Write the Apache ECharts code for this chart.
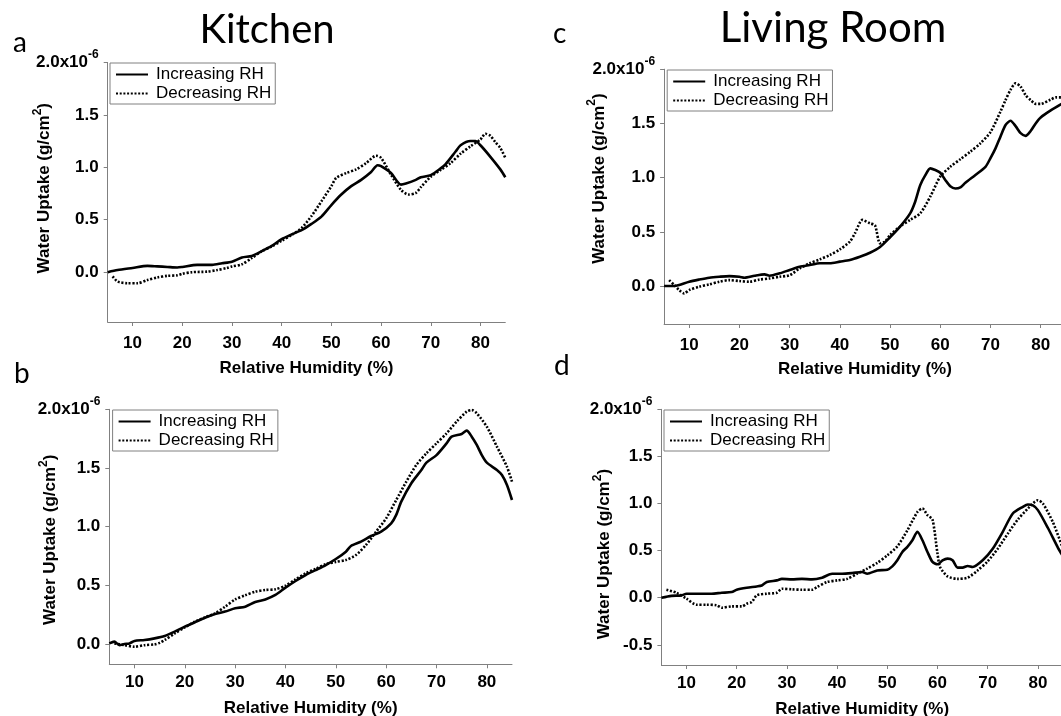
<!DOCTYPE html>
<html><head><meta charset="utf-8">
<script src="https://cdn.jsdelivr.net/npm/echarts@6/dist/echarts.min.js"></script>
<style>html,body{margin:0;padding:0;background:#fff}#c{width:1061px;height:716px}</style>
</head><body><div id="c"></div>
<script>
// Values in units of 1e-6 g/cm^2, RH in %
const aIncRH  = [5,7,10,13,15,17,19,20,23,26,28,30,32,34,36,38,40,42,44,46,48,50,52,54,56,58,59.3,60,62,64,65,67,68,70,72,73,75,76,78,79,80,82,84,85];
const aIncVal = [0.00,0.02,0.04,0.06,0.055,0.05,0.045,0.05,0.07,0.07,0.085,0.10,0.14,0.155,0.20,0.25,0.315,0.36,0.40,0.46,0.53,0.64,0.74,0.82,0.88,0.955,1.02,1.01,0.945,0.835,0.845,0.88,0.905,0.925,0.99,1.03,1.15,1.21,1.25,1.25,1.21,1.10,0.98,0.905];
const aDecRH  = [6,7,9,11,13,15,17,19,20,22,25,27,29,30,32,34,36,38,40,42,44,46,48,50,51,53,55,57,59,60,62,64,65.5,67,68,70,72,74,76,78,80,81,82,83,84,85];
const aDecVal = [-0.04,-0.09,-0.105,-0.105,-0.075,-0.05,-0.035,-0.03,-0.015,0.0,0.005,0.02,0.04,0.055,0.075,0.135,0.20,0.245,0.30,0.355,0.42,0.535,0.675,0.82,0.90,0.945,0.98,1.04,1.11,1.09,0.93,0.785,0.74,0.755,0.81,0.91,0.975,1.04,1.13,1.2,1.265,1.32,1.3,1.24,1.185,1.09];

const bIncRH  = [5,6,7,8,9,10,12,14,16,18,20,22,24,26,28,30,32,34,36,38,40,42,44,46,48,50,52,53,55,57,59,61,62,63,65,67,68,70,72,73,75,76,77,78,79,80,82,83,84,85];
const bIncVal = [0.005,0.02,-0.01,0.0,0.005,0.026,0.034,0.048,0.068,0.105,0.148,0.185,0.224,0.256,0.276,0.304,0.318,0.358,0.38,0.418,0.48,0.537,0.588,0.63,0.673,0.724,0.787,0.835,0.872,0.92,0.957,1.028,1.1,1.213,1.37,1.483,1.545,1.61,1.71,1.767,1.79,1.818,1.767,1.696,1.61,1.545,1.483,1.44,1.355,1.227];
const bDecRH  = [6,8,10,12,14,15,16,18,20,22,24,26,28,30,32,34,36,38,40,42,44,46,48,50,52,54,56,58,60,62,64,66,68,70,72,74,76,77,78,80,82,84,85];
const bDecVal = [0.005,-0.01,-0.023,-0.01,-0.003,0.01,0.034,0.09,0.142,0.19,0.227,0.26,0.318,0.38,0.415,0.446,0.46,0.466,0.497,0.55,0.602,0.64,0.68,0.70,0.716,0.758,0.844,0.957,1.071,1.227,1.383,1.526,1.625,1.71,1.795,1.895,1.98,1.994,1.966,1.852,1.682,1.51,1.383];

const cIncRH  = [5,7,8,10,12,14,16,18,20,21,23,25,26,28,30,32,34,36,38,40,42,44,46,48,50,52,54,55,56,57,58,59,60,61,62,63,64,65,67,69,70,71,72,73,74,75,76,77,78,79,80,82,84,85];
const cIncVal = [0,0,0.01,0.04,0.06,0.077,0.086,0.092,0.086,0.077,0.095,0.108,0.095,0.117,0.148,0.178,0.194,0.21,0.21,0.225,0.24,0.27,0.307,0.36,0.45,0.548,0.67,0.778,0.93,1.02,1.085,1.07,1.045,0.978,0.92,0.9,0.91,0.953,1.025,1.1,1.18,1.27,1.38,1.485,1.525,1.475,1.41,1.385,1.43,1.5,1.555,1.62,1.675,1.70];
const cDecRH  = [6,7,8,9,10,12,14,16,18,20,22,24,26,28,30,32,34,36,38,40,42,43,44.5,46,47,48,49,50,52,54,56,58,60,62,64,66,68,70,72,73,74,75,76,77,78,79,80,82,83,85];
const cDecVal = [0.055,0.01,-0.037,-0.068,-0.037,-0.006,0.015,0.04,0.055,0.046,0.04,0.06,0.07,0.086,0.10,0.163,0.21,0.246,0.286,0.338,0.41,0.486,0.61,0.578,0.56,0.394,0.41,0.47,0.55,0.61,0.67,0.824,1.01,1.1,1.17,1.24,1.317,1.42,1.61,1.715,1.81,1.87,1.84,1.76,1.715,1.68,1.68,1.72,1.74,1.74];

const dIncRH  = [5,7,9,10,12,15,17,19,20,22,24,25,26,28,29,31,33,35,37,39,41,43,45,46,48,50,51,52,53,54,55,56,57,58,59,60,61,62,63,64,65,66,67,69,71,73,75,77,78,79,80,82,84,85];
const dIncVal = [0,0.02,0.025,0.043,0.043,0.043,0.053,0.06,0.085,0.106,0.12,0.13,0.167,0.184,0.2,0.195,0.2,0.195,0.213,0.255,0.255,0.262,0.273,0.255,0.29,0.298,0.333,0.397,0.486,0.54,0.61,0.70,0.61,0.486,0.38,0.355,0.397,0.415,0.397,0.32,0.32,0.337,0.326,0.397,0.52,0.70,0.894,0.965,0.99,0.98,0.93,0.74,0.53,0.44];
const dDecRH  = [6,8,10,12,14,16,17,19,21,22,23,24,26,28,29,31,33,35,36,38,40,42,44,46,48,50,52,54,56,57,58,59,60,60.5,62,64,66,68,70,72,74,76,78,80,81,83,85];
const dDecVal = [0.085,0.053,-0.01,-0.074,-0.074,-0.08,-0.106,-0.092,-0.092,-0.064,-0.046,0.025,0.043,0.053,0.096,0.089,0.085,0.085,0.113,0.167,0.184,0.2,0.255,0.31,0.37,0.45,0.546,0.716,0.91,0.947,0.876,0.83,0.468,0.326,0.227,0.2,0.213,0.29,0.387,0.52,0.68,0.83,0.947,1.035,1.0,0.8,0.52];

const xTicks = [10,20,30,40,50,60,70,80];
const yTicksMain = [0,0.5,1,1.5,2];
const yTicksD = [-0.5,0,0.5,1,1.5,2];
const roomTitles = ['Kitchen','Living Room'];
const panelLetters = ['a','b','c','d'];
const xName = 'Relative Humidity (%)';
const yName = ['Water Uptake (g/cm', '2', ')'];
const seriesNames = ['Increasing RH','Decreasing RH'];

const F = '"Liberation Sans", Arial, sans-serif';
const TF = 'Lato, "Open Sans", sans-serif';
const AX = '#808080';
function zip(xs, ys){ return xs.map((x,i)=>[x, ys[i]]); }

const panels = [
  {grid:{left:107.7, top:62.4, width:397.6, height:259.6}, ymin:-0.475, yt:yTicksMain,
   inc:zip(aIncRH,aIncVal), dec:zip(aDecRH,aDecVal), lg:{left:110, top:63}, ngap:50, npad:[0,0,0,8], xgap:38, lm:13},
  {grid:{left:109.3, top:409.3, width:402.7, height:255}, ymin:-0.173, yt:yTicksMain,
   inc:zip(bIncRH,bIncVal), dec:zip(bDecRH,bDecVal), lg:{left:112.6, top:410}, ngap:46, npad:[0,6,0,0], xgap:36, lm:10},
  {grid:{left:664.1, top:69.2, width:401.7, height:254.8}, ymin:-0.35, yt:yTicksMain,
   inc:zip(cIncRH,cIncVal), dec:zip(cDecRH,cDecVal), lg:{left:667.2, top:70}, ngap:52, npad:[0,0,0,36], xgap:37, lm:13},
  {grid:{left:661.4, top:409.3, width:401.6, height:255.7}, ymin:-0.714, yt:yTicksD,
   inc:zip(dIncRH,dIncVal), dec:zip(dDecRH,dDecVal), lg:{left:664, top:410}, ngap:44, npad:[0,34,0,0], xgap:36, lm:10}
];

const titleStyle = (size) => ({fontFamily:TF, fontSize:size, fontWeight:'normal', color:'#000'});

const option = {
  backgroundColor:'#fff',
  animation:false,
  title: [
    {text:roomTitles[0], left:267, top:10, textAlign:'center', padding:0, textStyle:titleStyle(40)},
    {text:roomTitles[1], left:833, top:7, textAlign:'center', padding:0, textStyle:titleStyle(42)},
    {text:panelLetters[0], left:13, top:29, padding:0, textStyle:titleStyle(28)},
    {text:panelLetters[1], left:14, top:360, padding:0, textStyle:titleStyle(28)},
    {text:panelLetters[2], left:553, top:20, padding:0, textStyle:titleStyle(28)},
    {text:panelLetters[3], left:554, top:352, padding:0, textStyle:titleStyle(28)}
  ],
  grid: panels.map(p => Object.assign({outerBoundsMode:'none', containLabel:false}, p.grid)),
  legend: panels.map(p => ({
    data: seriesNames, orient:'vertical', left:p.lg.left, top:p.lg.top,
    itemWidth:32, itemHeight:14, itemGap:2, padding:[3,4,2,5],
    borderColor:'#808080', borderWidth:1, backgroundColor:'#fff',
    selectedMode:false,
    itemStyle:{color:'rgba(0,0,0,0)', borderColor:'rgba(0,0,0,0)', borderWidth:0, opacity:0},
    textStyle:{fontFamily:F, fontSize:17, color:'#000', lineHeight:17, padding:[0,0,0,3]}
  })),
  xAxis: panels.map((p,i) => ({
    gridIndex:i, type:'value', min:5, max:85,
    name:xName, nameLocation:'middle', nameGap:p.xgap, nameMoveOverlap:false,
    nameTextStyle:{fontFamily:F, fontSize:17, fontWeight:'bold', color:'#000'},
    axisLine:{show:true, onZero:false, lineStyle:{color:AX, width:1}},
    axisTick:{show:true, inside:false, length:4, customValues:xTicks, lineStyle:{color:AX}},
    axisLabel:{customValues:xTicks, margin:p.lm, fontFamily:F, fontSize:17, fontWeight:'bold', color:'#000'},
    splitLine:{show:false}
  })),
  yAxis: panels.map((p,i) => ({
    gridIndex:i, type:'value', min:p.ymin, max:2,
    name:'{m|'+yName[0]+'}{s|'+yName[1]+'}{m|'+yName[2]+'}', nameLocation:'middle', nameGap:p.ngap, nameRotate:90, nameMoveOverlap:false,
    nameTextStyle:{fontFamily:F, fontSize:17, fontWeight:'bold', color:'#000', padding:p.npad,
      rich:{m:{fontFamily:F, fontSize:17, fontWeight:'bold', color:'#000'},
            s:{fontFamily:F, fontSize:12, fontWeight:'bold', color:'#000', padding:[0,0,14,0]}}},
    axisLine:{show:true, onZero:false, lineStyle:{color:AX, width:1}},
    axisTick:{show:true, inside:false, length:4, customValues:p.yt, lineStyle:{color:AX}},
    axisLabel:{customValues:p.yt, margin:9,
      formatter: v => Math.abs(v-2) < 1e-9 ? '{m|2.0x10}{s|-6}' : '{m|' + v.toFixed(1) + '}',
      rich:{m:{fontFamily:F, fontSize:17, fontWeight:'bold', color:'#000'},
            s:{fontFamily:F, fontSize:12, fontWeight:'bold', color:'#000', padding:[0,0,16,0]}}},
    splitLine:{show:false}
  })),
  series: panels.flatMap((p,i) => [
    {name:seriesNames[0], type:'line', xAxisIndex:i, yAxisIndex:i, data:p.inc, showSymbol:false, symbol:'none', smooth:0.25,
     lineStyle:{color:'#000', width:2.6, type:'solid'}, itemStyle:{color:'#000'}, z:3},
    {name:seriesNames[1], type:'line', xAxisIndex:i, yAxisIndex:i, data:p.dec, showSymbol:false, symbol:'none', smooth:0.25,
     lineStyle:{color:'#000', width:2.6, type:[2,1.7]}, itemStyle:{color:'#000'}, z:2}
  ])
};
const chart = echarts.init(document.getElementById('c'), null, {renderer:'canvas'});
chart.setOption(option);
</script></body></html>
